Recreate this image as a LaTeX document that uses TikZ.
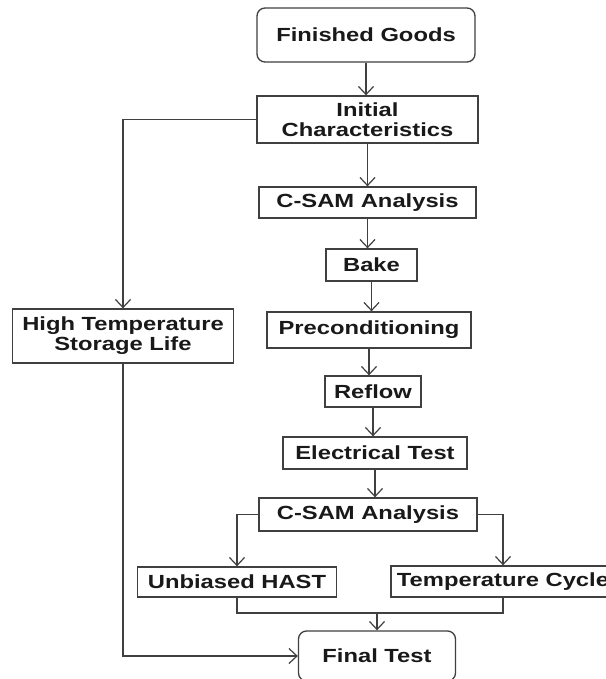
\documentclass[tikz,border=0pt]{standalone}
\usepackage{fontspec}
\setmainfont{Liberation Sans}[FakeStretch=1.25]
\usetikzlibrary{arrows.meta}
\begin{document}
\begin{tikzpicture}[x=1pt,y=-1pt,
  box/.style={draw=black!75, line width=1.3pt, rectangle, inner sep=0pt, align=center,
    font=\fontsize{19}{20}\selectfont\bfseries, text=black!90},
  rbox/.style={box, rounded corners=8pt},
  conn/.style={draw=black!75, line width=1.2pt},
  arr/.style={conn, -{Straight Barb[length=8pt,width=15pt,line width=1.2pt]}}
]
\useasboundingbox (0,0) rectangle (605,679);
\fill[white] (0,0) rectangle (605,679);

\node[rbox, minimum width=218pt, minimum height=54pt] (fg) at (366,35) {Finished Goods};
\node[box, minimum width=221pt, minimum height=47pt] (ic) at (367.5,119.5) {Initial\\Characteristics};
\node[box, minimum width=217pt, minimum height=31pt] (cs1) at (367.5,202.5) {C-SAM Analysis};
\node[box, minimum width=91pt, minimum height=32pt] (bake) at (371.5,265) {Bake};
\node[box, minimum width=221pt, minimum height=54pt] (htsl) at (123,336) {High Temperature\\Storage Life};
\node[box, minimum width=204pt, minimum height=36pt] (pre) at (369,330) {Preconditioning};
\node[box, minimum width=96pt, minimum height=31pt] (ref) at (373,391.5) {Reflow};
\node[box, minimum width=184pt, minimum height=32pt] (et) at (375,453) {Electrical Test};
\node[box, minimum width=218pt, minimum height=33pt] (cs2) at (368,514.5) {C-SAM Analysis};
\node[box, minimum width=199pt, minimum height=30pt] (hast) at (237,582) {Unbiased HAST};
\node[box, minimum width=224pt, minimum height=31pt] (tc) at (503,581.5) {Temperature Cycle};
\node[rbox, minimum width=157pt, minimum height=50pt] (ft) at (377,656) {Final Test};

\coordinate (my) at (0,613);
\coordinate (mrg) at (ft.north |- my);

\draw[arr] (fg.south) -- (fg.south |- ic.north);
\draw[arr] (ic.south) -- (ic.south |- cs1.north);
\draw[arr] (cs1.south) -- (cs1.south |- bake.north);
\draw[arr] (bake.south) -- (bake.south |- pre.north);
\draw[arr] (pre.south) -- (pre.south |- ref.north);
\draw[arr] (ref.south) -- (ref.south |- et.north);
\draw[arr] (et.south) -- (et.south |- cs2.north);
\draw[arr] (ic.west) -| (htsl.north);
\draw[arr] (htsl.south) |- (ft.west);
\draw[arr] (cs2.west) -| (hast.north);
\draw[arr] (cs2.east) -| (tc.north);
\draw[conn] (hast.south) |- (mrg) -| (tc.south);
\draw[arr] (mrg) -- (ft.north);
\end{tikzpicture}
\end{document}
